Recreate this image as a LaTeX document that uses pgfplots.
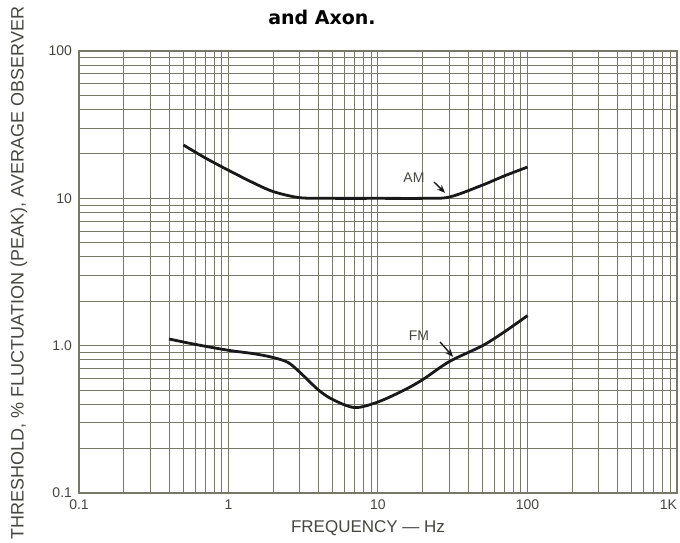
\documentclass[border=0pt]{standalone}
\usepackage{fontspec}
\setmainfont{Liberation Sans}
\newfontfamily\titlefont{DejaVu Sans}
\usepackage{pgfplots}
\pgfplotsset{compat=1.18}
\usetikzlibrary{arrows.meta}
\definecolor{gridc}{RGB}{120,120,105}
\definecolor{ink}{RGB}{25,25,25}
\definecolor{labc}{RGB}{70,70,65}

\begin{document}
\begin{tikzpicture}
\useasboundingbox (-39.5pt,-24.5pt) rectangle (300.5pt,246.5pt);
\begin{axis}[
  at={(0,0)}, anchor=south west,
  scale only axis, width=299pt, height=221pt,
  xmode=log, ymode=log,
  xmin=0.1, xmax=1000, ymin=0.1, ymax=100,
  xtick={0.1,1,10,100,1000}, xticklabels={0.1,1,10,100,{\llap{1K}}},
  ytick={0.1,1,10,100}, yticklabels={0.1,1.0,10,100},
  minor xtick={0.2,0.3,0.4,0.5,0.6,0.7,0.8,0.9,2,3,4,5,6,7,8,9,20,30,40,50,60,70,80,90,200,300,400,500,600,700,800,900},
  minor ytick={0.2,0.3,0.4,0.5,0.6,0.7,0.8,0.9,2,3,4,5,6,7,8,9,20,30,40,50,60,70,80,90},
  grid=both,
  major grid style={gridc, line width=0.5pt},
  minor grid style={gridc, line width=0.5pt},
  axis line style={gridc, line width=0.55pt},
  major tick length=0pt, minor tick length=0pt,
  tick label style={font=\fontsize{7}{8}\selectfont, text=labc},
  clip=false,
]
% AM threshold
\addplot[ink, line width=1.4pt, smooth] coordinates {
  (0.5,23) (0.7,18.8) (1,15.5) (1.5,12.6) (2,11.1) (3,10.1) (5,10)
  (10,10) (20,10) (30,10.2) (50,12.3) (70,14.2) (100,16.3)
};
% FM threshold
\addplot[ink, line width=1.4pt, smooth] coordinates {
  (0.4,1.11) (0.6,1.02) (1,0.93) (1.5,0.88) (2,0.83) (2.5,0.77) (3,0.66)
  (4,0.50) (5,0.43) (7,0.38) (10,0.415) (15,0.50) (20,0.59) (30,0.78)
  (50,1.0) (70,1.24) (100,1.6)
};
\node[font=\fontsize{7}{8}\selectfont, text=labc] at (axis cs:17.4,13.8) {AM};
\draw[ink, line width=0.7pt, -{Stealth[length=4pt,width=3.2pt]}] (axis cs:23.7,12.9) -- (axis cs:28.1,10.9);
\node[font=\fontsize{7}{8}\selectfont, text=labc] at (axis cs:18.8,1.16) {FM};
\draw[ink, line width=0.7pt, -{Stealth[length=4pt,width=3.2pt]}] (axis cs:26,1.06) -- (axis cs:31.8,0.84);
\end{axis}
\node[rotate=90, text=labc, font=\fontsize{9}{10}\selectfont] at (-30pt,110pt)
  {THRESHOLD, \% FLUCTUATION (PEAK), AVERAGE OBSERVER};
\node[text=labc, font=\fontsize{8.5}{10}\selectfont] at (144.5pt,-17.5pt) {FREQUENCY --- Hz};
\node[font=\titlefont\bfseries\fontsize{9.5}{11}\selectfont] at (121.5pt,238pt) {and Axon.};
\end{tikzpicture}
\end{document}
